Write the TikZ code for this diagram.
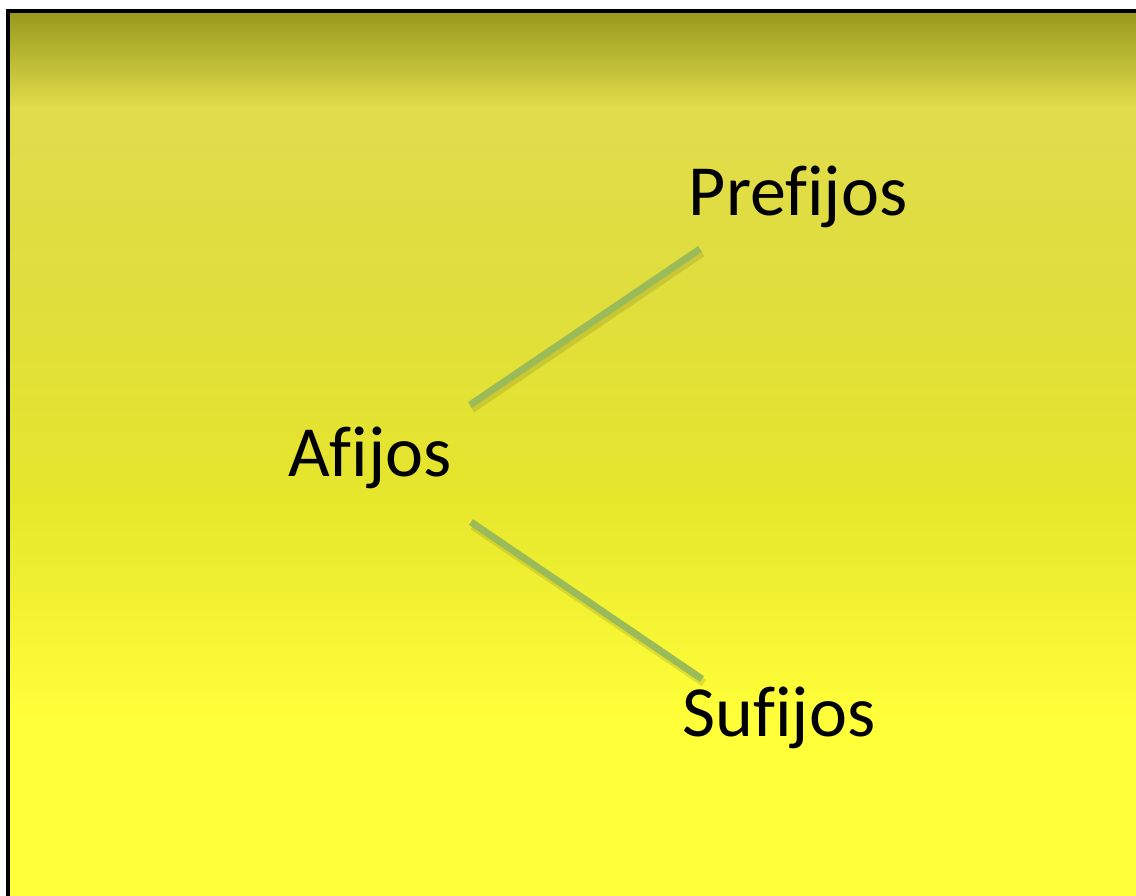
\documentclass[tikz,border=0pt]{standalone}
\usepackage{fontspec}
\setmainfont[Ligatures=NoCommon]{Carlito}
\definecolor{olivetop}{RGB}{152,152,28}
\definecolor{band}{RGB}{224,220,76}
\definecolor{yA}{RGB}{224,222,60}
\definecolor{yB}{RGB}{230,230,44}
\definecolor{yC}{RGB}{255,255,58}
\definecolor{linegreen}{RGB}{155,187,89}
\tikzset{
  label/.style={anchor=base, inner sep=0pt, font=\fontsize{72}{86}\selectfont, text=black},
  conn/.style={draw=linegreen, line width=7pt},
  connshadow/.style={draw=black!60!olivetop, line width=8pt, opacity=0.14},
}
\begin{document}
\begin{tikzpicture}[x=1pt,y=-1pt]
\useasboundingbox (0,0) rectangle (1136,896);
\fill[white] (0,0) rectangle (1136,896);
% background gradient
\shade[top color=olivetop, bottom color=band] (8,11) rectangle (1137,108);
\shade[top color=band, bottom color=yA] (8,107.5) rectangle (1137,300);
\shade[top color=yA, bottom color=yB] (8,299.5) rectangle (1137,500);
\shade[top color=yB, bottom color=yC] (8,499.5) rectangle (1137,720);
\fill[yC] (8,719.5) rectangle (1137,897);
% frame
\draw[black, line width=4.5pt] (8,900) -- (8,11) -- (1140,11);
% labels
\node[label] (pre) at (798,216) {Prefijos};
\node[label] (afi) at (370,476) {Afijos};
\node[label] (suf) at (779,736) {Sufijos};
% connector ends
\coordinate (a1) at (470,405);
\coordinate (p1) at (700,249);
\coordinate (a2) at (471,522);
\coordinate (s1) at (702,679);
\coordinate (a1s) at (472,409);
\coordinate (p1s) at (702,253);
\coordinate (a2s) at (473,526);
\coordinate (s1s) at (704,683);
\draw[connshadow] (a1s) -- (p1s);
\draw[connshadow] (a2s) -- (s1s);
\draw[conn] (a1) -- (p1);
\draw[conn] (a2) -- (s1);
\end{tikzpicture}
\end{document}
